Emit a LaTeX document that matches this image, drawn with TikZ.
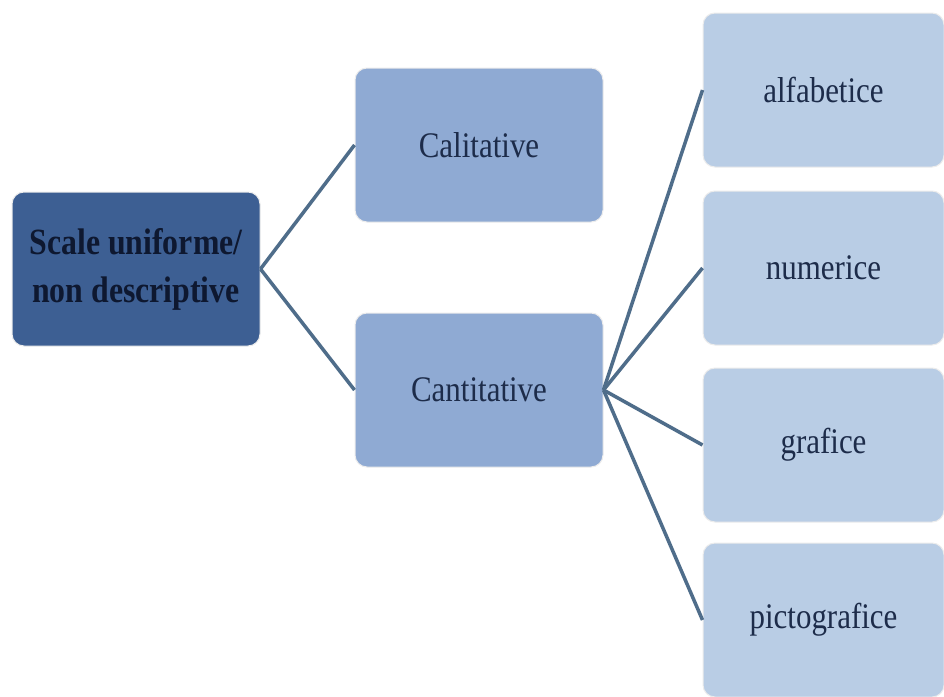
\documentclass[tikz,border=0pt]{standalone}
\usepackage{fontspec}
\setmainfont{Liberation Serif}[FakeStretch=0.86]
\definecolor{rootfill}{HTML}{3D5F93}
\definecolor{midfill}{HTML}{8FAAD3}
\definecolor{leaffill}{HTML}{B9CDE5}
\definecolor{linkcol}{HTML}{4F6D8A}
\definecolor{txtdark}{HTML}{0E1830}
\definecolor{txtmid}{HTML}{1D2C4A}
\begin{document}
\begin{tikzpicture}[x=1pt,y=-1pt,
  box/.style={rectangle, rounded corners=12pt, draw=white!85!gray, line width=1pt,
    minimum width=248pt, minimum height=154pt, align=center, inner sep=0pt,
    font=\fontsize{36}{48}\selectfont},
  rootbox/.style={box, fill=rootfill, text=txtdark, font=\fontsize{37}{48}\selectfont\bfseries},
  midbox/.style={box, fill=midfill, text=txtmid},
  leafbox/.style={box, fill=leaffill, text=txtmid, minimum width=241pt},
  link/.style={draw=linkcol, line width=3.5pt}]
\useasboundingbox (0,0) rectangle (944,696);
\fill[white] (0,0) rectangle (944,696);
\node[rootbox] (root) at (136,269) {Scale uniforme/\\non descriptive};
\node[midbox] (cal) at (479,145) {Calitative};
\node[midbox] (can) at (479,390) {Cantitative};
\node[leafbox] (alf) at (823.5,90) {alfabetice};
\node[leafbox] (num) at (823.5,268) {numerice};
\node[leafbox] (gra) at (823.5,445) {grafice};
\node[leafbox] (pic) at (823.5,620) {pictografice};
\draw[link] (root.east) -- (cal.west);
\draw[link] (root.east) -- (can.west);
\draw[link] (can.east) -- (alf.west);
\draw[link] (can.east) -- (num.west);
\draw[link] (can.east) -- (gra.west);
\draw[link] (can.east) -- (pic.west);
\end{tikzpicture}
\end{document}
